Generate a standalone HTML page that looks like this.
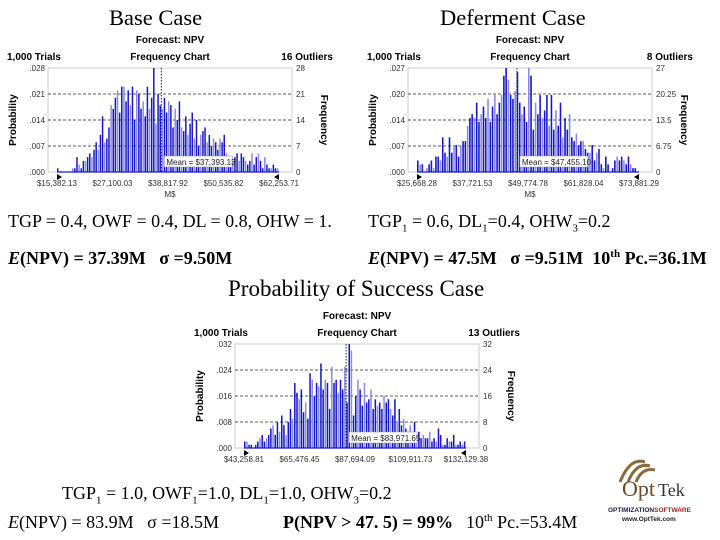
<!DOCTYPE html>
<html><head><meta charset="utf-8">
<style>
body{margin:0;background:#fff;}
#root{position:relative;width:720px;height:540px;overflow:hidden;background:#fff;font-family:"Liberation Serif",serif;}
.t{position:absolute;white-space:nowrap;color:#000;}
svg text{font-family:"Liberation Sans",sans-serif;}
</style></head>
<body>
<div id="root">
<div class="t" style="left:109px;top:5px;font-size:22.5px;">Base Case</div>
<div class="t" style="left:440px;top:5px;font-size:22.5px;">Deferment Case</div>
<div class="t" style="left:8px;top:211px;font-size:18px;">TGP = 0.4, OWF = 0.4, DL = 0.8, OHW = 1.</div>
<div class="t" style="left:368px;top:211px;font-size:18px;">TGP<sub style="font-size:11px">1</sub> = 0.6, DL<sub style="font-size:11px">1</sub>=0.4, OHW<sub style="font-size:11px">3</sub>=0.2</div>
<div class="t" style="left:8px;top:248px;font-size:18px;"><b><i>E</i>(NPV) = 37.39M&nbsp;&nbsp; σ =9.50M</b></div>
<div class="t" style="left:368px;top:248px;font-size:18px;"><b><i>E</i>(NPV) = 47.5M&nbsp;&nbsp; σ =9.51M&nbsp; 10<sup style="font-size:11px">th</sup> Pc.=36.1M</b></div>
<div class="t" style="left:228px;top:276px;font-size:23px;">Probability of Success Case</div>
<div class="t" style="left:62px;top:483px;font-size:18px;">TGP<sub style="font-size:11px">1</sub> = 1.0, OWF<sub style="font-size:11px">1</sub>=1.0, DL<sub style="font-size:11px">1</sub>=1.0, OHW<sub style="font-size:11px">3</sub>=0.2</div>
<div class="t" style="left:8px;top:512px;font-size:18px;"><i>E</i>(NPV) = 83.9M&nbsp;&nbsp; σ =18.5M</div>
<div class="t" style="left:283px;top:512px;font-size:18px;"><b>P(NPV &gt; 47. 5) = 99%</b></div>
<div class="t" style="left:466px;top:512px;font-size:18px;">10<sup style="font-size:11px">th</sup> Pc.=53.4M</div>
<svg style="position:absolute;left:600px;top:452px" width="120" height="80">
<path d="M20 30 Q30 5 45 10 M28 30 Q36 10 50 14 M36 30 Q42 15 55 18" stroke="#8a6a3a" stroke-width="3" fill="none"/>
<text x="22" y="44" font-size="22" fill="#6a4a2a" style="font-family:'Liberation Serif',serif">Opt</text>
<text x="58" y="44" font-size="18" fill="#333" style="font-family:'Liberation Serif',serif">Tek</text>
<text x="8" y="60" font-size="6.5" font-weight="bold" fill="#224">OPTIMIZATION<tspan fill="#a22">SOFTWARE</tspan></text>
<text x="22" y="69" font-size="6.5" font-weight="bold" fill="#222">www.OptTek.com</text>
</svg>
<svg id="charts" width="720" height="540" style="position:absolute;left:0;top:0;pointer-events:none"></svg>
</div>
<script>
const baseFreq=[1,0,0,0,0,0,0,1,1,4,2,1,3,3,4,5,4,6,8,6,10,15,8,9,12,18,17,20,22,16,23,23,19,22,18,23,14,22,21,17,19,15,23,17,20,28,13,21,18,17,20,16,19,18,12,17,14,19,12,11,15,10,13,16,9,14,7,10,11,12,8,10,7,9,8,6,9,8,10,5,4,3,3,4,5,3,5,4,3,2,3,5,2,4,5,3,1,4,2,1,1,2,1,1];
const baseYTicks=[".000",".007",".014",".021",".028"];
const baseFTicks=["0","7","14","21","28"];
const baseXTicks=["$15,382.13","$27,100.03","$38,817.92","$50,535.82","$62,253.71"];
const baseMax=28, baseMeanPos=0.47, baseMeanLabel="Mean = $37,393.13", baseOutliers="16 Outliers";

const defFreq=[3,2,2,0,1,2,3,1,4,4,3,9,5,4,9,5,7,7,4,7,8,8,12,14,15,14,18,13,15,17,14,19,13,17,20,15,18,20,25,27,24,20,19,21,26,18,15,17,13,27,25,11,18,15,20,14,16,20,12,20,11,16,12,18,9,14,11,15,9,8,10,7,8,8,6,5,5,7,3,5,6,2,1,4,2,0,1,3,4,3,4,3,2,4,2,1,1,0];
const defYTicks=[".000",".007",".014",".020",".027"];
const defFTicks=["0","6.75","13.5","20.25","27"];
const defXTicks=["$25,668.28","$37,721.53","$49,774.78","$61,828.04","$73,881.29"];
const defMax=27, defMeanPos=0.45, defMeanLabel="Mean = $47,455.10", defOutliers="8 Outliers";

const sucFreq=[2,2,1,1,0,1,2,3,4,2,3,4,6,7,4,8,5,10,7,4,8,12,9,20,17,15,18,11,14,9,23,21,16,20,19,26,18,21,20,12,25,20,21,17,21,18,25,14,32,30,10,16,21,18,13,20,14,15,18,12,15,13,14,12,16,14,15,12,10,15,8,12,7,9,6,5,7,4,8,3,5,3,4,3,3,5,2,3,2,6,4,1,1,3,2,2,4,1,1,2,1,2];
const sucYTicks=[".000",".008",".016",".024",".032"];
const sucFTicks=["0","8","16","24","32"];
const sucXTicks=["$43,258.81","$65,476.45","$87,694.09","$109,911.73","$132,129.38"];
const sucMax=32, sucMeanPos=0.46, sucMeanLabel="Mean = $83,971.65", sucOutliers="13 Outliers";

const NS="http://www.w3.org/2000/svg";
const svg=document.getElementById('charts');
function mk(tag,attrs,parent,txt){const e=document.createElementNS(NS,tag);for(const k in attrs)e.setAttribute(k,attrs[k]);if(txt!==undefined)e.textContent=txt;parent.appendChild(e);return e;}
function drawChart(name,ox,oy,freq,yT,fT,xT,max,meanPos,meanLabel,outl,showMS){
  const g=mk('g',{transform:`translate(${ox},${oy})`},svg);
  
  
  const L=48,R=292,T=38,B=142,x0=57,x1=279;
  mk('text',{x:170,y:13,'font-size':10,'font-weight':'bold','text-anchor':'middle'},g,'Forecast: NPV');
  mk('text',{x:7,y:30,'font-size':10,'font-weight':'bold'},g,'1,000 Trials');
  mk('text',{x:170,y:30,'font-size':10,'font-weight':'bold','text-anchor':'middle'},g,'Frequency Chart');
  mk('text',{x:333,y:30,'font-size':10,'font-weight':'bold','text-anchor':'end'},g,outl);
  mk('rect',{x:L,y:T,width:R-L,height:B-T,fill:'#fff',stroke:'#ccc','stroke-width':1},g);
  const ys=v=>B-(v/max)*(B-T);
  for(let i=0;i<yT.length;i++){
    const y=B-i*(B-T)/(yT.length-1);
    if(i>0&&i<yT.length-1)mk('line',{x1:L,x2:R,y1:y,y2:y,stroke:'#222','stroke-dasharray':'3,2','stroke-width':0.7},g);
    mk('text',{x:L-3,y:y+3,'font-size':8,'text-anchor':'end',fill:'#333'},g,yT[i]);
    mk('text',{x:R+4,y:y+3,'font-size':8,fill:'#333'},g,fT[i]);
  }
  const n=freq.length,step=(x1-x0)/n;
  for(let i=0;i<n;i++){
    if(freq[i]<=0)continue;
    const r=mk('rect',{x:x0+i*step,y:ys(freq[i]),width:Math.max(step*0.7,1),height:B-ys(freq[i]),fill:(i%3==1)?'#8a8ae8':'#1818c8'},g);
    
    
  }
  mk('line',{x1:x0,x2:x1,y1:B,y2:B,stroke:'#1818c8','stroke-width':1.2},g);
  const mx=x0+meanPos*(x1-x0);
  mk('line',{x1:mx,x2:mx,y1:T,y2:B,stroke:'#222','stroke-dasharray':'1.5,1.5','stroke-width':1},g);
  mk('rect',{x:mx+3,y:B-16,width:68,height:11,fill:'#fff',stroke:'#888','stroke-width':0.5},g);
  mk('text',{x:mx+5,y:B-7,'font-size':8,fill:'#222'},g,meanLabel);
  mk('path',{d:`M${x0} ${B+2}l5 3l-5 3z`,fill:'#000'},g);
  mk('path',{d:`M${x1} ${B+2}l-5 3l5 3z`,fill:'#000'},g);
  for(let i=0;i<xT.length;i++){
    mk('text',{x:x0+i*(x1-x0)/(xT.length-1),y:B+14,'font-size':8,'text-anchor':'middle',fill:'#333'},g,xT[i]);
  }
  if(showMS)mk('text',{x:170,y:B+25,'font-size':8,'text-anchor':'middle',fill:'#333'},g,'M$');
  mk('text',{x:0,y:0,'font-size':10,'font-weight':'bold','text-anchor':'middle',transform:`translate(16,${(T+B)/2}) rotate(-90)`},g,'Probability');
  mk('text',{x:0,y:0,'font-size':10,'font-weight':'bold','text-anchor':'middle',transform:`translate(321,${(T+B)/2}) rotate(90)`},g,'Frequency');
}
drawChart('base-case-chart',0,30,baseFreq,baseYTicks,baseFTicks,baseXTicks,baseMax,baseMeanPos,baseMeanLabel,baseOutliers,true);
drawChart('deferment-case-chart',360,30,defFreq,defYTicks,defFTicks,defXTicks,defMax,defMeanPos,defMeanLabel,defOutliers,true);
drawChart('success-case-chart',187,306,sucFreq,sucYTicks,sucFTicks,sucXTicks,sucMax,sucMeanPos,sucMeanLabel,sucOutliers,false);
</script>
</body></html>
